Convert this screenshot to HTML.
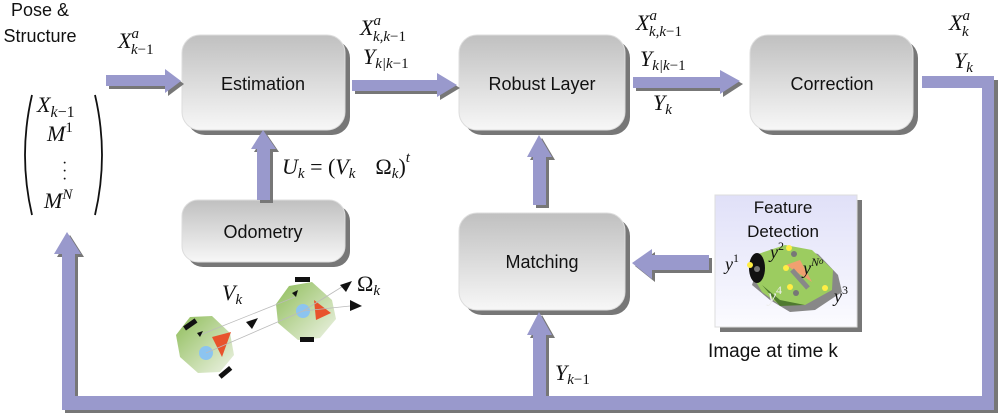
<!DOCTYPE html>
<html><head><meta charset="utf-8"><style>
html,body{margin:0;padding:0;background:#fff;width:1000px;height:415px;overflow:hidden}
svg{display:block}
.s{font-family:"Liberation Sans",sans-serif;fill:#111}
.m{font-family:"Liberation Serif",serif;font-style:italic;fill:#111}
.r{font-family:"Liberation Serif",serif;fill:#111}
</style></head><body>
<svg width="1000" height="415" viewBox="0 0 1000 415" xmlns="http://www.w3.org/2000/svg">
<defs>
<linearGradient id="g" x1="0" y1="0" x2="0" y2="1"><stop offset="0" stop-color="#c0c0c0"/><stop offset="1" stop-color="#f7f7f7"/></linearGradient>
<linearGradient id="fd" x1="0" y1="0" x2="0" y2="1"><stop offset="0" stop-color="#e0e0f8"/><stop offset="1" stop-color="#fbfbff"/></linearGradient>
<linearGradient id="gr" x1="0" y1="0" x2="1" y2="1"><stop offset="0" stop-color="#8fbd5a"/><stop offset="1" stop-color="#eef3e6"/></linearGradient>
</defs>
<g fill="#777">
<rect x="187" y="40" width="163" height="95" rx="18"/>
<rect x="464" y="40" width="166" height="95" rx="18"/>
<rect x="755" y="40" width="163" height="95" rx="18"/>
<rect x="187" y="205" width="163" height="62" rx="16"/>
<rect x="464" y="218" width="166" height="97" rx="18"/>
<rect x="720" y="200" width="142" height="132"/>
</g>
<g fill="url(#g)" stroke="#ddd">
<rect x="182" y="35" width="163" height="95" rx="18"/>
<rect x="459" y="35" width="166" height="95" rx="18"/>
<rect x="750" y="35" width="163" height="95" rx="18"/>
<rect x="182" y="200" width="163" height="62" rx="16"/>
<rect x="459" y="213" width="166" height="97" rx="18"/>
</g>
<rect x="715" y="195" width="142" height="132" fill="url(#fd)" stroke="#ddd"/>
<text class="s" x="263" y="90" font-size="18" text-anchor="middle">Estimation</text>
<text class="s" x="542" y="90" font-size="18" text-anchor="middle">Robust Layer</text>
<text class="s" x="832" y="90" font-size="18" text-anchor="middle">Correction</text>
<text class="s" x="263" y="238" font-size="18" text-anchor="middle">Odometry</text>
<text class="s" x="542" y="268" font-size="18" text-anchor="middle">Matching</text>
<text class="s" x="783" y="213" font-size="17" text-anchor="middle">Feature</text>
<text class="s" x="783" y="237" font-size="17" text-anchor="middle">Detection</text>
<text class="s" x="773" y="357" font-size="19" text-anchor="middle">Image at time k</text>
<text class="s" x="40" y="16" font-size="18" text-anchor="middle">Pose &amp;</text>
<text class="s" x="40" y="42" font-size="18" text-anchor="middle">Structure</text>
<g fill="#777">
<polygon points="109,78 168,78 168,72 184,84 168,96 168,89 109,89"/>
<polygon points="355,83 440,83 440,76 460,88 440,100 440,94 355,94"/>
<polygon points="636,80 723,80 723,73 743,84 723,97 723,91 636,91"/>
<polygon points="260,203 260,152 254,152 266,133 279,152 273,152 273,203"/>
<polygon points="536,208 536,160 530,160 542,138 555,160 549,160 549,208"/>
<polygon points="712,258 655,258 655,252 635,266 655,282 655,273 712,273"/>
<polygon points="925,80 991,80 991,398 549,398 549,338 555,338 542,315 530,338 536,338 536,398 78,398 78,257 84,257 70,235 57,257 65,257 65,413 998,413 998,80"/>
</g>
<g fill="#9999cc">
<polygon points="106,75 165,75 165,69 181,81 165,93 165,86 106,86"/>
<polygon points="352,80 437,80 437,73 457,85 437,97 437,91 352,91"/>
<polygon points="633,77 720,77 720,70 740,81 720,94 720,88 633,88"/>
<polygon points="257,200 257,149 251,149 263,130 276,149 270,149 270,200"/>
<polygon points="533,205 533,157 527,157 539,135 552,157 546,157 546,205"/>
<polygon points="709,255 652,255 652,249 632,263 652,279 652,270 709,270"/>
<polygon points="922,76 994,76 994,410 62,410 62,254 54,254 67,232 81,254 75,254 75,396 533,396 533,335 527,335 539,312 552,335 546,335 546,396 982,396 982,88 922,88"/>
</g>
<path d="M32,95 Q18,155 32,215" fill="none" stroke="#111" stroke-width="1.8"/>
<path d="M95,95 Q109,155 95,215" fill="none" stroke="#111" stroke-width="1.8"/>
<text class="m" x="37" y="112" font-size="22">X<tspan font-size="16" dy="5">k</tspan><tspan class="r" font-style="normal" font-size="16">−1</tspan></text>
<text class="m" x="47" y="141" font-size="22">M<tspan class="r" font-style="normal" font-size="15" dy="-9">1</tspan></text>
<text class="r" x="62" y="168" font-size="16">·</text><text class="r" x="62" y="176" font-size="16">·</text><text class="r" x="62" y="184" font-size="16">·</text>
<text class="m" x="44" y="208" font-size="22">M<tspan font-size="15" dy="-9">N</tspan></text>
<text class="m" x="118" y="48" font-size="22">X<tspan font-size="15" dy="-10">a</tspan><tspan font-size="15" dx="-8" dy="16">k</tspan><tspan class="r" font-style="normal" font-size="15">−1</tspan></text>
<text class="m" x="360" y="35" font-size="22">X<tspan font-size="15" dy="-10">a</tspan><tspan font-size="15" dx="-8" dy="16">k,k</tspan><tspan class="r" font-style="normal" font-size="15">−1</tspan></text>
<text class="m" x="363" y="64" font-size="22">Y<tspan font-size="15" dy="4">k|k</tspan><tspan class="r" font-style="normal" font-size="15">−1</tspan></text>
<text class="m" x="636" y="30" font-size="22">X<tspan font-size="15" dy="-10">a</tspan><tspan font-size="15" dx="-8" dy="16">k,k</tspan><tspan class="r" font-style="normal" font-size="15">−1</tspan></text>
<text class="m" x="640" y="66" font-size="22">Y<tspan font-size="15" dy="4">k|k</tspan><tspan class="r" font-style="normal" font-size="15">−1</tspan></text>
<text class="m" x="653" y="110" font-size="22">Y<tspan font-size="15" dy="4">k</tspan></text>
<text class="m" x="949" y="30" font-size="22">X<tspan font-size="15" dy="-10">a</tspan><tspan font-size="15" dx="-8" dy="16">k</tspan></text>
<text class="m" x="954" y="68" font-size="22">Y<tspan font-size="15" dy="4">k</tspan></text>
<text class="m" x="282" y="174" font-size="22">U<tspan font-size="15" dy="4">k</tspan><tspan class="r" font-style="normal" font-size="22" dy="-4"> = (</tspan>V<tspan font-size="15" dy="4">k</tspan><tspan font-size="22" dy="-4" dx="20" class="r" font-style="normal">Ω</tspan><tspan font-size="15" dy="4">k</tspan><tspan class="r" font-style="normal" font-size="22" dy="-4">)</tspan><tspan font-size="15" dy="-12">t</tspan></text>
<text class="m" x="555" y="380" font-size="22">Y<tspan font-size="15" dy="4">k</tspan><tspan class="r" font-style="normal" font-size="15">−1</tspan></text>
<text class="m" x="222" y="300" font-size="22">V<tspan font-size="15" dy="4">k</tspan></text>
<text class="r" x="357" y="291" font-size="22">Ω<tspan class="m" font-size="15" dy="4">k</tspan></text>
<g>
<polygon points="190,317 212,316 230,333 234,355 220,372 198,373 180,357 176,335" fill="url(#gr)"/>
<rect x="183" y="322" width="14" height="5" transform="rotate(-35 190 324)" fill="#111"/>
<rect x="218" y="370" width="14" height="5" transform="rotate(-40 225 372)" fill="#111"/>
<circle cx="206" cy="353" r="7" fill="#8cc4f0"/>
<polygon points="212,337 231,332 222,357" fill="#e8532c"/>
<polygon points="289,286 312,282 332,300 336,319 320,338 298,340 278,323 276,304" fill="url(#gr)"/>
<rect x="295" y="277" width="15" height="5" fill="#111"/>
<rect x="300" y="337" width="14" height="5" fill="#111"/>
<circle cx="303" cy="311" r="7" fill="#8cc4f0"/>
<polygon points="314,300 331,313 316,320" fill="#e8532c"/>
<line x1="200" y1="335" x2="295" y2="297" stroke="#bbb" stroke-width="0.8"/>
<line x1="206" y1="353" x2="303" y2="311" stroke="#bbb" stroke-width="0.8"/>
<line x1="303" y1="311" x2="350" y2="306" stroke="#bbb" stroke-width="0.8"/>
<line x1="303" y1="311" x2="345" y2="285" stroke="#bbb" stroke-width="0.8"/>
<polygon points="246,322 258,318 252,329" fill="#111"/>
<polygon points="350,300 362,306 350,311" fill="#111"/>
<polygon points="340,285 352,281 346,292" fill="#111"/>
<polygon points="292,293 298,290 296,297" fill="#111"/>
<polygon points="197,333 203,331 200,337" fill="#111"/>
</g>
<g>
<polygon points="760,260 790,247 818,254 838,275 842,292 815,310 790,312 770,300 752,285" fill="#888"/>
<polygon points="755,255 785,245 812,250 833,270 832,290 805,305 780,305 762,292 752,275" fill="#9ccc60"/>
<polygon points="762,285 780,300 805,305 780,306" fill="#4f7a2f"/>
<ellipse cx="757" cy="268" rx="8" ry="15" fill="#111"/>
<polygon points="786,265 800,260 812,282" fill="#f0a070"/>
<line x1="792" y1="270" x2="808" y2="288" stroke="#888" stroke-width="5"/>
<g fill="#ffee44"><circle cx="750" cy="265" r="3"/><circle cx="789" cy="248" r="3"/><circle cx="786" cy="268" r="3"/><circle cx="790" cy="287" r="3"/><circle cx="825" cy="288" r="3"/></g>
<g fill="#777"><circle cx="757" cy="269" r="3"/><circle cx="794" cy="254" r="3"/><circle cx="796" cy="293" r="3"/></g>
<text class="m" x="725" y="270" font-size="18">y<tspan class="r" font-style="normal" font-size="12" dy="-8">1</tspan></text>
<text class="m" x="770" y="258" font-size="18">y<tspan class="r" font-style="normal" font-size="12" dy="-8">2</tspan></text>
<text class="m" x="803" y="274" font-size="18">y<tspan font-size="12" dy="-8">N</tspan><tspan font-size="9" dy="-2">o</tspan></text>
<text class="m" x="834" y="302" font-size="18">y<tspan class="r" font-style="normal" font-size="12" dy="-8">3</tspan></text>
<text class="m" x="768" y="302" font-size="18" style="fill:#eee">y<tspan font-style="normal" font-size="12" dy="-8">4</tspan></text>
</g>
</svg>
</body></html>
